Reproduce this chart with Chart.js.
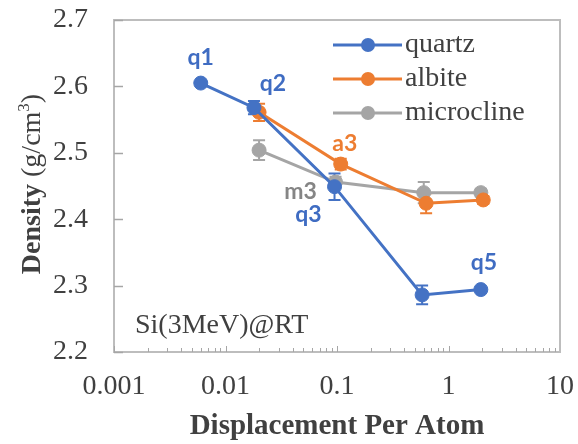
<!DOCTYPE html>
<html><head><meta charset="utf-8">
<script src="https://cdn.jsdelivr.net/npm/chart.js@4"></script>
<style>html,body{margin:0;padding:0;background:#fff}#wrap{width:578px;height:444px}</style>
</head><body>
<div id="wrap"><canvas id="c" width="578" height="444"></canvas></div>
<script>
// ---- data ----
const seriesNames = ['quartz', 'albite', 'microcline'];
const quartzX = [0.006, 0.018, 0.095, 0.58, 1.95];
const quartzY = [2.605, 2.568, 2.449, 2.286, 2.294];
const quartzErr = [0, 0.01, 0.02, 0.014, 0];
const quartzLabels = ['q1', 'q2', 'q3', '', 'q5'];
const albiteX = [0.02, 0.108, 0.63, 2.05];
const albiteY = [2.561, 2.483, 2.424, 2.429];
const albiteErr = [0.013, 0.008, 0.015, 0.006];
const albiteLabels = ['', 'a3', '', ''];
const microclineX = [0.02, 0.097, 0.6, 1.95];
const microclineY = [2.504, 2.456, 2.440, 2.440];
const microclineErr = [0.015, 0.008, 0.016, 0.006];
const microclineLabels = ['', 'm3', '', ''];
const xTickValues = [0.001, 0.01, 0.1, 1, 10];
const xTickLabels = ['0.001', '0.01', '0.1', '1', '10'];
const yTickValues = [2.2, 2.3, 2.4, 2.5, 2.6, 2.7];
const yTickLabels = ['2.2', '2.3', '2.4', '2.5', '2.6', '2.7'];
const xTitle = 'Displacement Per Atom';
const yTitleParts = ['Density ', '(g/cm', '3', ')'];
const annotationText = 'Si(3MeV)@RT';

// ---- style ----
const colors = ['#4472C4', '#ED7D31', '#A5A5A5'];
const labelColors = ['#3F6CC2', '#ED7D31', '#858585'];
const textColor = '#404040';
const serif = '"Liberation Serif", "Times New Roman", serif';
const labelOffsets = [
  [[0, -26], [19, -24], [-26, 28], [0, 0], [3, -27]],
  [[0, 0], [4, -21], [0, 0], [0, 0]],
  [[0, 0], [-35, 10], [0, 0], [0, 0]]
];

function mk(i, xs, ys, errs, labels) {
  return {
    label: seriesNames[i],
    data: xs.map((x, k) => ({ x: x, y: ys[k] })),
    errors: errs,
    pointLabels: labels,
    showLine: true,
    borderColor: colors[i],
    backgroundColor: colors[i],
    borderWidth: 3,
    pointRadius: 7,
    pointBorderWidth: 1,
    pointBorderColor: colors[i],
    pointBackgroundColor: colors[i]
  };
}

const decoPlugin = {
  id: 'deco',
  beforeDatasetsDraw(chart) {
    const ctx = chart.ctx, ca = chart.chartArea;
    const xs = chart.scales.x, ys = chart.scales.y;
    ctx.save();
    ctx.strokeStyle = '#BDBDBD';
    ctx.lineWidth = 2;
    ctx.strokeRect(ca.left, ca.top, ca.right - ca.left, ca.bottom - ca.top);
    ctx.strokeStyle = '#A6A6A6';
    ctx.lineWidth = 1.5;
    ys.ticks.forEach(t => {
      const py = Math.round(ys.getPixelForValue(t.value)) + 0.5;
      ctx.beginPath(); ctx.moveTo(ca.left, py); ctx.lineTo(ca.left + 9, py); ctx.stroke();
    });
    ctx.lineWidth = 1;
    for (let d = 0; d < xTickValues.length - 1; d++) {
      for (let k = 1; k <= 9; k++) {
        const v = xTickValues[d] * k;
        const px = Math.round(xs.getPixelForValue(v)) + 0.5;
        const len = k === 1 ? 6 : 4;
        ctx.beginPath(); ctx.moveTo(px, ca.bottom); ctx.lineTo(px, ca.bottom - len); ctx.stroke();
      }
    }
    chart.data.datasets.forEach((ds, di) => {
      const meta = chart.getDatasetMeta(di);
      ctx.strokeStyle = colors[di];
      ctx.lineWidth = 2;
      ds.data.forEach((p, k) => {
        const e = ds.errors[k];
        if (!e) return;
        const px = meta.data[k].x;
        const y1 = ys.getPixelForValue(p.y - e), y2 = ys.getPixelForValue(p.y + e);
        ctx.beginPath();
        ctx.moveTo(px, y1); ctx.lineTo(px, y2);
        ctx.moveTo(px - 6, y1); ctx.lineTo(px + 6, y1);
        ctx.moveTo(px - 6, y2); ctx.lineTo(px + 6, y2);
        ctx.stroke();
      });
    });
    ctx.restore();
  },
  afterDatasetsDraw(chart) {
    const ctx = chart.ctx, ca = chart.chartArea;
    ctx.save();
    ctx.font = 'bold 23px Lato, "Open Sans", sans-serif';
    ctx.textAlign = 'center';
    ctx.textBaseline = 'middle';
    chart.data.datasets.forEach((ds, di) => {
      const meta = chart.getDatasetMeta(di);
      ctx.fillStyle = labelColors[di];
      ds.pointLabels.forEach((lab, k) => {
        if (!lab) return;
        const o = labelOffsets[di][k];
        ctx.fillText(lab, meta.data[k].x + o[0], meta.data[k].y + o[1]);
      });
    });
    ctx.font = '28px ' + serif;
    ctx.textAlign = 'left';
    chart.data.datasets.forEach((ds, di) => {
      const y = 45 + di * 34;
      ctx.strokeStyle = colors[di];
      ctx.lineWidth = 3;
      ctx.beginPath(); ctx.moveTo(333, y); ctx.lineTo(402, y); ctx.stroke();
      ctx.fillStyle = colors[di];
      ctx.beginPath(); ctx.arc(368, y, 7, 0, Math.PI * 2); ctx.fill();
      ctx.fillStyle = textColor;
      ctx.fillText(ds.label, 405, y);
    });
    ctx.fillText(annotationText, ca.left + 21, 326);
    ctx.font = 'bold 29px ' + serif;
    ctx.textAlign = 'center';
    ctx.fillText(xTitle, (ca.left + ca.right) / 2, 427);
    ctx.translate(33, 184);
    ctx.rotate(-Math.PI / 2);
    const f0 = 'bold 28px ' + serif, f1 = '28px ' + serif, f2 = '17px ' + serif;
    const fonts = [f0, f1, f2, f1];
    const widths = yTitleParts.map((t, i) => { ctx.font = fonts[i]; return ctx.measureText(t).width; });
    let x = -widths.reduce((a, b) => a + b, 0) / 2;
    ctx.textAlign = 'left';
    yTitleParts.forEach((t, i) => {
      ctx.font = fonts[i];
      ctx.fillText(t, x, i === 2 ? -8 : 0);
      x += widths[i];
    });
    ctx.restore();
  }
};

new Chart(document.getElementById('c'), {
  type: 'scatter',
  data: {
    datasets: [
      mk(0, quartzX, quartzY, quartzErr, quartzLabels),
      mk(1, albiteX, albiteY, albiteErr, albiteLabels),
      mk(2, microclineX, microclineY, microclineErr, microclineLabels)
    ]
  },
  options: {
    responsive: false,
    animation: false,
    layout: { padding: { top: 20, right: 18, left: 0, bottom: 0 } },
    plugins: { legend: { display: false }, tooltip: { enabled: false } },
    scales: {
      x: {
        type: 'logarithmic', min: 0.001, max: 10,
        afterBuildTicks: s => { s.ticks = xTickValues.map(v => ({ value: v })); },
        afterFit: s => { s.height = 92; s.paddingLeft = 0; s.paddingRight = 0; },
        grid: { display: false, drawTicks: false },
        border: { display: false },
        ticks: {
          autoSkip: false, maxRotation: 0, padding: 18, color: textColor,
          font: { family: serif, size: 28 },
          callback: (v, i) => xTickLabels[i]
        }
      },
      y: {
        type: 'linear', min: 2.2, max: 2.7,
        afterBuildTicks: s => { s.ticks = yTickValues.map(v => ({ value: v })); },
        afterFit: s => { s.width = 114; s.paddingTop = 0; s.paddingBottom = 0; },
        grid: { display: false, drawTicks: false },
        border: { display: false },
        ticks: {
          padding: 26, color: textColor,
          font: { family: serif, size: 28 },
          callback: (v, i) => yTickLabels[i]
        }
      }
    }
  },
  plugins: [decoPlugin]
});
</script>
</body></html>
